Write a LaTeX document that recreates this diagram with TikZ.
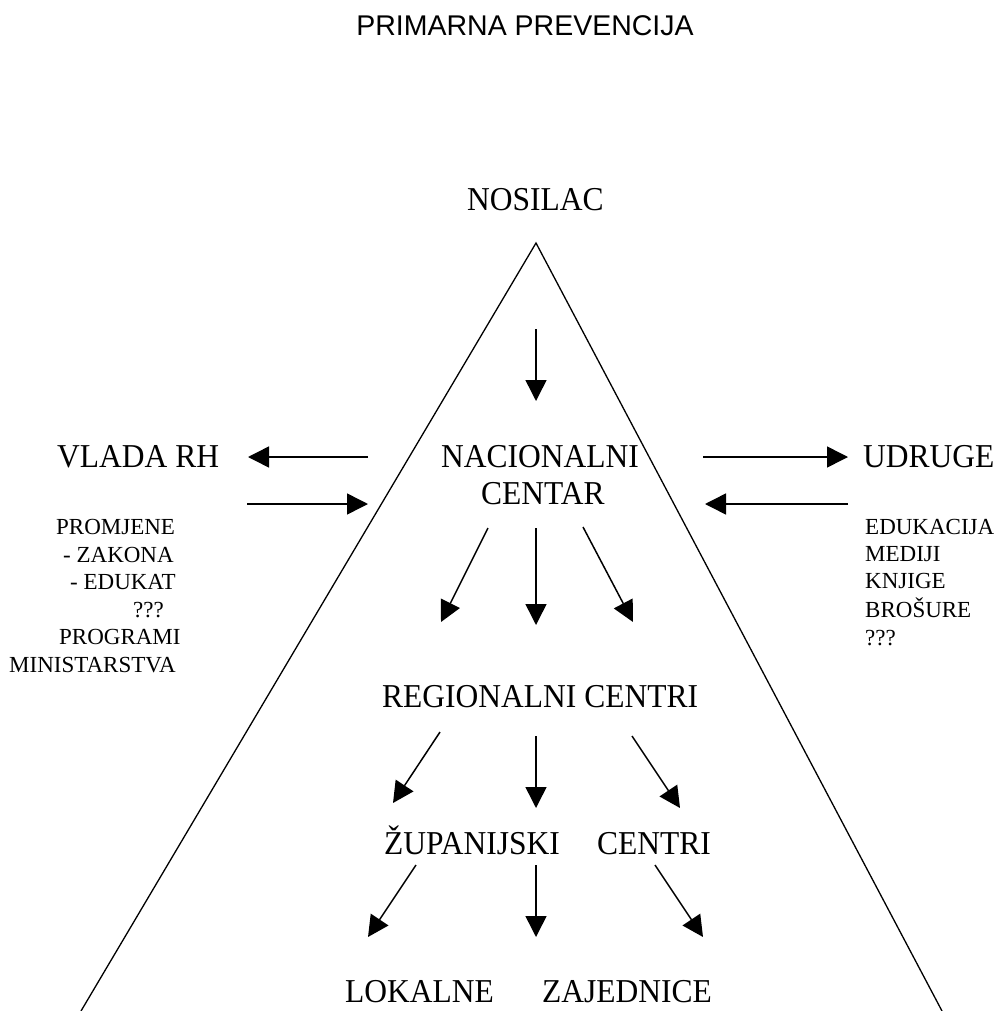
\documentclass[tikz,border=0pt]{standalone}
\usepackage{fontspec}
\usepackage{graphicx}
\setmainfont{Liberation Serif}
\newfontfamily\titlefont{Liberation Sans}
\usetikzlibrary{arrows.meta}
\newcommand{\tallt}[1]{\scalebox{1}[1.06]{#1}}
\tikzset{
  big/.style={inner sep=0pt, anchor=base west, font=\fontsize{31.5}{36}\selectfont},
  small/.style={inner sep=0pt, anchor=base west, font=\fontsize{23}{27}\selectfont},
  arr/.style={line width=1.5pt, -{Triangle[length=21pt,width=21pt]}},
  tri/.style={line width=1.3pt}
}
\begin{document}
\begin{tikzpicture}[x=1pt,y=-1pt]
\useasboundingbox (0,0) rectangle (1000,1011);
% title
\node[inner sep=0pt, anchor=base, font=\titlefont\fontsize{28.5}{32}\selectfont] (title) at (525,36) {PRIMARNA PREVENCIJA};
% pyramid
\coordinate (apex) at (536,243);
\coordinate (bl) at (81,1011);
\coordinate (br) at (942,1011);
\draw[tri] (bl) -- (apex) -- (br);
% main texts
\node[big] (nosilac) at (467,211) {\tallt{NOSILAC}};
\node[big] (nac1) at (441,467) {\tallt{NACIONALNI}};
\node[big] (nac2) at (481,504) {\tallt{CENTAR}};
\node[big] (vlada) at (57,467) {\tallt{VLADA RH}};
\node[big] (udruge) at (863,467) {\tallt{UDRUGE}};
\node[big] (reg) at (382,707) {\tallt{REGIONALNI CENTRI}};
\node[big] (zup) at (384,854) {\tallt{ŽUPANIJSKI}};
\node[big] (zupc) at (597,854) {\tallt{CENTRI}};
\node[big] (lok) at (345,1002) {\tallt{LOKALNE}};
\node[big] (zaj) at (542,1002) {\tallt{ZAJEDNICE}};
% left list
\node[small] (l1) at (56,534) {PROMJENE};
\node[small] (l2) at (63,562) {- ZAKONA};
\node[small] (l3) at (70,589) {- EDUKAT};
\node[small] (l4) at (133,617) {???};
\node[small] (l5) at (59,644) {PROGRAMI};
\node[small] (l6) at (9,672) {MINISTARSTVA};
% right list
\node[small] (r1) at (865,534) {EDUKACIJA};
\node[small] (r2) at (865,561) {MEDIJI};
\node[small] (r3) at (865,588) {KNJIGE};
\node[small] (r4) at (865,617) {BROŠURE};
\node[small] (r5) at (865,645) {???};
% arrow endpoints
\coordinate (a0s) at (536,329); \coordinate (a0e) at (536,401);
\coordinate (n1s) at (488,528); \coordinate (n1e) at (441,622);
\coordinate (n2s) at (536,528); \coordinate (n2e) at (536,625);
\coordinate (n3s) at (583,527); \coordinate (n3e) at (633,622);
\coordinate (g1s) at (440,732); \coordinate (g1e) at (393,803);
\coordinate (g2s) at (536,736); \coordinate (g2e) at (536,808);
\coordinate (g3s) at (632,736); \coordinate (g3e) at (680,808);
\coordinate (z1s) at (416,865); \coordinate (z1e) at (368,937);
\coordinate (z2s) at (536,865); \coordinate (z2e) at (536,937);
\coordinate (z3s) at (655,865); \coordinate (z3e) at (703,937);
\coordinate (h1s) at (368,457); \coordinate (h1e) at (248,457);
\coordinate (h2s) at (247,504); \coordinate (h2e) at (368,504);
\coordinate (h3s) at (703,457); \coordinate (h3e) at (848,457);
\coordinate (h4s) at (848,504); \coordinate (h4e) at (705,504);
\foreach \p in {a0,n1,n2,n3,g1,g2,g3,z1,z2,z3,h1,h2,h3,h4}
  \draw[arr] (\p s) -- (\p e);
\end{tikzpicture}
\end{document}
